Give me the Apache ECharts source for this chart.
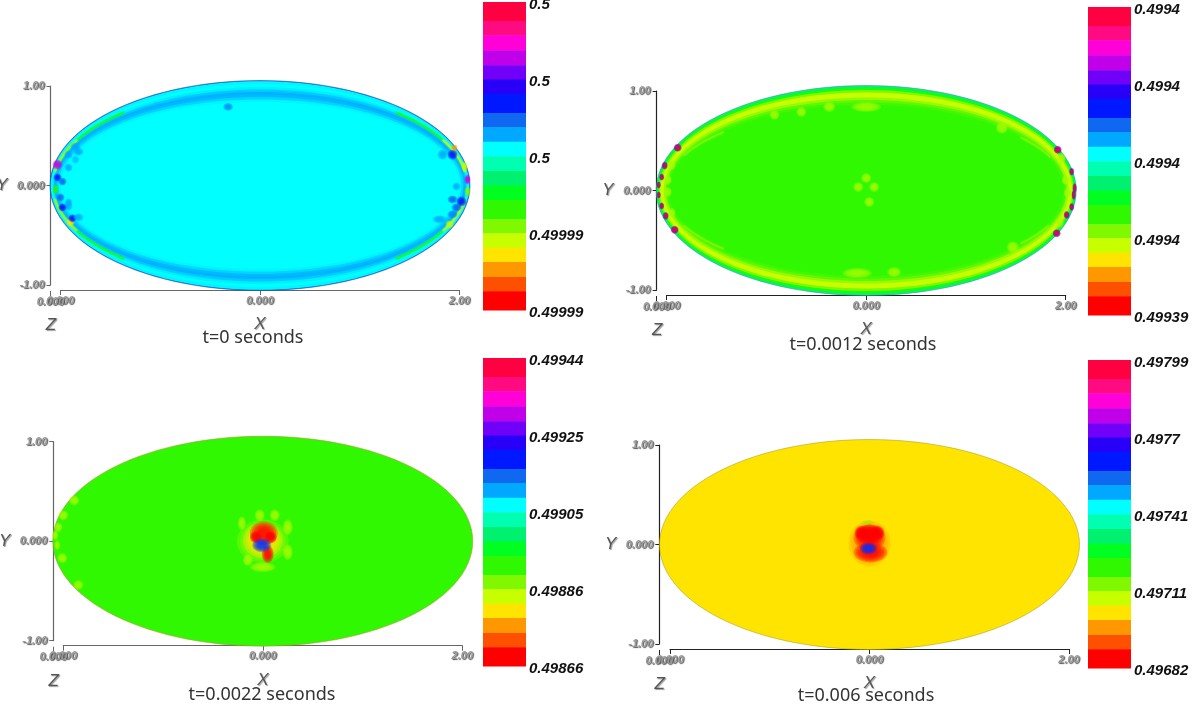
<!DOCTYPE html>
<html><head><meta charset="utf-8">
<style>html,body{margin:0;padding:0;background:#fff}#c{width:1200px;height:714px}</style>
<script src="https://cdn.jsdelivr.net/npm/echarts@6/dist/echarts.min.js"></script>
</head><body><div id="c"></div>
<script>
// ---------- values ----------
const captions = ["t=0 seconds", "t=0.0012 seconds", "t=0.0022 seconds", "t=0.006 seconds"];
const xTickLabels = ["0.000", "0.000", "2.00"];
const yTickLabels = ["-1.00", "0.000", "1.00"];
const zTickLabels = ["0.000", ""];
// colour bar labels, bottom to top
const legendLabels0 = ["0.49999", "0.49999", "0.5", "0.5", "0.5"];
const legendLabels1 = ["0.49939", "0.4994", "0.4994", "0.4994", "0.4994"];
const legendLabels2 = ["0.49866", "0.49886", "0.49905", "0.49925", "0.49944"];
const legendLabels3 = ["0.49682", "0.49711", "0.49741", "0.4977", "0.49799"];
// colour bar band borders as a fraction of its height, top to bottom
const bandEdges = [1, .938, .892, .843, .795, .748, .702, .640, .594, .546, .499, .451, .404, .357, .295, .249, .202, .156, .107, .061, 0];
const bandColors = ["#ff0040", "#ff0a80", "#ff00d8", "#c000e8", "#7000f8", "#2800f8", "#0018ff", "#1068f0", "#00a8ff", "#00ffff",
  "#00ffb0", "#00f070", "#00ff20", "#30f800", "#80f800", "#c8ff00", "#ffe400", "#ff9800", "#ff5000", "#ff0000"];
// contour rings: [x semi-axis, y semi-axis, colour band], outermost first
const rings0 = [[2.105,1.055,7.6],[2.098,1.048,8.9],[2.09,1.02,9],[2.08,.99,8.8],[2.07,.965,8.4],[2.06,.94,8.1],[2.05,.915,8.2],[2.04,.89,8.5],[2.02,.865,8.9],[2,.84,9]];
const rings1 = [[2.105,1.055,10.5],[2.1,1.045,11.5],[2.09,1.03,12.5],[2.08,1.01,14],[2.065,.985,15],[2.05,.96,15],[2.03,.935,14.3],[2.01,.91,13.6],[2,.885,13.2],[1.98,.86,13]];
const rings2 = [[2.105,1.055,13]];
const rings3 = [[2.105,1.055,16]];
// thin arcs: [x semi-axis, y semi-axis, from degree, to degree, colour band]
const arcs0 = [[2.075,.975,131,152,12.5],[2.075,.975,152,172,14.5],[2.075,.975,188,208,14.5],[2.075,.975,208,229,12.5],
  [2.075,.975,49,28,12.5],[2.075,.975,28,8,15],[2.075,.975,-8,-28,15],[2.075,.975,-28,-49,12.5]];
const arcs1 = [[2.02,.83,135,155,14],[2.02,.83,205,225,14],[2.02,.83,24,40,14],[2.02,.83,-40,-25,14]];
const arcs2 = [];
const arcs3 = [];
// blobs: [x, y, x radius, y radius, colour band]
const spots0 = [[-.32,.79,.05,.04,7.6],[-1.85,.39,.05,.04,8],[-1.82,.34,.05,.04,8],[-1.92,.31,.04,.04,8],[-1.85,.26,.04,.04,8.3],[-1.92,.18,.04,.04,8],
  [-2.03,.21,.05,.05,3],[-2.03,.08,.04,.04,6],[-1.98,.04,.04,.04,7],[-2.05,-.04,.03,.05,13],[-2,-.12,.04,.04,7],[-1.92,-.17,.04,.04,8],[-1.92,-.21,.04,.04,8],
  [-1.98,-.22,.04,.04,6],[-1.9,-.37,.04,.04,16],[-1.88,-.33,.04,.04,6],[-1.82,-.32,.05,.04,8],
  [1.83,.31,.05,.05,8],[1.93,.31,.05,.05,6],[1.95,.38,.03,.03,17],[2.05,.19,.03,.05,15],[2.08,.06,.03,.05,3],[1.97,-.01,.04,.04,8],[2.08,-.06,.03,.05,14],
  [2.02,-.16,.05,.05,6],[1.93,-.14,.05,.04,7],[1.97,-.22,.05,.04,7],[1.93,-.29,.05,.04,7.5],[1.8,-.34,.07,.04,8],[1.9,-.39,.04,.04,15]];
const spots1 = [[-.92,.76,.05,.05,14.5],[-.65,.79,.05,.05,14.5],[-.37,.84,.06,.05,14.5],[0,.84,.15,.05,14.5],[0,.125,.05,.05,14.5],[-.08,.035,.05,.05,14.5],[.08,.035,.05,.05,14.5],[.03,-.115,.05,.05,14.5],
  [-.09,-.83,.15,.05,14.5],[.28,-.82,.07,.05,14.5],[1.36,.63,.06,.06,14.5],[1.47,-.57,.06,.06,14.5],
  [-1.95,.255,.04,.05,14.5],[-1.99,.105,.04,.05,14.5],[-1.99,-.015,.04,.05,14.5],[-1.95,-.225,.04,.05,14.5],[1.96,.325,.04,.05,14.5],[2,.105,.04,.05,14.5],[2.02,-.025,.04,.05,14.5],[1.94,-.325,.04,.05,14.5],
  [-1.89,.43,.04,.04,6],[-2.02,.25,.03,.04,6],[-2.05,.135,.025,.035,6],[-2.08,.055,.02,.035,6],[-2.08,-.045,.02,.035,6],[-2.05,-.155,.025,.035,6],[-2.01,-.255,.03,.04,6],[-1.92,-.395,.04,.04,6],
  [1.92,.41,.04,.04,6],[2.06,.19,.025,.04,6],[2.09,.025,.02,.05,6],[2.08,-.045,.02,.05,6],[2.06,-.165,.025,.04,6],[2.01,-.245,.03,.04,6],[1.91,-.43,.04,.04,6],
  [-1.89,.43,.035,.035,0],[-2.02,.25,.025,.03,0],[-2.05,.135,.02,.03,0],[-2.08,.055,.018,.03,0],[-2.08,-.045,.018,.03,0],[-2.05,-.155,.02,.03,0],[-2.01,-.255,.025,.03,0],[-1.92,-.395,.035,.035,0],
  [1.92,.41,.035,.035,0],[2.06,.19,.02,.03,0],[2.09,.025,.018,.04,0],[2.08,-.045,.018,.04,0],[2.06,-.165,.02,.03,0],[2.01,-.245,.025,.03,0],[1.91,-.43,.035,.035,0]];
const spots2 = [[-1.89,.41,.05,.05,14.5],[-2,.26,.05,.05,14.5],[-2.05,.14,.04,.05,14.5],[-2.08,.06,.03,.05,14.5],[-2.06,-.04,.03,.05,14.5],[-2.01,-.17,.05,.05,14.5],[-1.85,-.44,.05,.05,14.5],
  [-.21,.18,.04,.07,14.5],[-.03,.26,.05,.06,14.5],[.12,.26,.05,.06,14.5],[.25,.14,.05,.08,14.5],[.25,-.11,.05,.08,14.5],[-.15,-.19,.05,.06,14.5],[0,-.26,.13,.05,14.5],
  [0,0,.26,.22,14.5],[0,.01,.2,.18,16],[.01,.08,.14,.12,19],[-.07,.04,.06,.06,19],[.08,.04,.06,.06,19],[.05,-.13,.06,.09,19],[-.01,-.04,.095,.07,6.3]];
const spots3 = [[-.02,.21,.07,.04,14.5],[0,.01,.21,.23,17],[0,.07,.16,.13,19],[-.08,.12,.07,.07,19],[.08,.12,.07,.07,19],[0,.1,.14,.1,19],[.01,-.08,.17,.1,19],[-.01,-.04,.085,.06,6.3]];

// ---------- layout and styles ----------
const panels = [
  {rings: rings0, arcs: arcs0, spots: spots0, legend: legendLabels0, rim: "#2840a0", axis: "#666", left: 60.5, top: 86, yAxisAt: 50.5, bar: [483, 2], cap: [253, 338]},
  {rings: rings1, arcs: arcs1, spots: spots1, legend: legendLabels1, rim: "#4a8088", axis: "#222", left: 666.7, top: 91, yAxisAt: 656.7, bar: [1088, 7], cap: [863, 345]},
  {rings: rings2, arcs: arcs2, spots: spots2, legend: legendLabels2, rim: "#b09030", axis: "#666", left: 63.3, top: 441.7, yAxisAt: 53.3, bar: [483, 358], cap: [262, 695]},
  {rings: rings3, arcs: arcs3, spots: spots3, legend: legendLabels3, rim: "#a89a28", axis: "#222", left: 670, top: 445, yAxisAt: 659.3, bar: [1088, 360], cap: [866, 696]}
];
function rgb(h){return [1,3,5].map(i=>parseInt(h.substr(i,2),16));}
function bandColor(v){
  const i=Math.min(Math.floor(v),bandColors.length-1), j=Math.min(i+1,bandColors.length-1), f=v-i;
  const a=rgb(bandColors[i]), b=rgb(bandColors[j]);
  return 'rgb('+a.map((c,k)=>Math.round(c+(b[k]-c)*f)).join(',')+')';
}
function ellipsePoints(api,cx,cy,a,b,from,to,n){
  const pts=[];
  for(let k=0;k<=n;k++){const t=(from+(to-from)*k/n)*Math.PI/180;pts.push(api.coord([cx+a*Math.cos(t),cy+b*Math.sin(t)]));}
  return pts;
}
const tickFont={fontFamily:'"Liberation Sans"',fontStyle:'italic',fontWeight:'bold',fontSize:11,color:'#999',textShadowColor:'#555',textShadowOffsetX:1,textShadowOffsetY:1,textShadowBlur:1};
const nameFont={fontFamily:'"Liberation Sans"',fontStyle:'italic',fontSize:17,color:'#555',textShadowColor:'#999',textShadowOffsetX:1,textShadowOffsetY:1,textShadowBlur:1};
const option={animation:false,backgroundColor:'#fff',grid:[],xAxis:[],yAxis:[],series:[],graphic:[]};

panels.forEach((p,i)=>{
  const g=option.grid.length;
  option.grid.push({left:p.left,top:p.top,width:399,height:199,outerBoundsMode:'none'});
  option.xAxis.push({gridIndex:g,type:'value',min:-2,max:2,interval:2,offset:5,splitLine:{show:false},
    axisLine:{onZero:false,lineStyle:{color:p.axis,width:1.2}},axisTick:{length:5,inside:false,lineStyle:{color:p.axis}},
    axisLabel:{...tickFont,margin:5,formatter:(v,k)=>xTickLabels[k]},
    name:'X',nameLocation:'middle',nameGap:26,nameTextStyle:nameFont});
  option.yAxis.push({gridIndex:g,type:'value',min:-1,max:1,interval:1,offset:p.left-p.yAxisAt,splitLine:{show:false},
    axisLine:{onZero:false,lineStyle:{color:p.axis,width:1.2}},axisTick:{length:4,lineStyle:{color:p.axis}},
    axisLabel:{...tickFont,margin:6,formatter:(v,k)=>yTickLabels[k]},
    name:'Y',nameLocation:'middle',nameRotate:0,nameGap:43,nameTextStyle:nameFont});
  // concentric contour rings
  option.series.push({type:'custom',xAxisIndex:g,yAxisIndex:g,clip:false,silent:true,data:p.rings,
    renderItem:(ps,api)=>({type:'polygon',shape:{points:ellipsePoints(api,0,0,api.value(0),api.value(1),0,360,120)},style:{fill:bandColor(api.value(2))}})});
  // outer rim
  option.series.push({type:'custom',xAxisIndex:g,yAxisIndex:g,clip:false,silent:true,data:p.rings.slice(0,1),
    renderItem:(ps,api)=>({type:'polygon',shape:{points:ellipsePoints(api,0,0,api.value(0),api.value(1),0,360,120)},style:{fill:'none',stroke:p.rim,lineWidth:1,opacity:.55}})});
  // arcs
  option.series.push({type:'custom',xAxisIndex:g,yAxisIndex:g,clip:false,silent:true,data:p.arcs,
    renderItem:(ps,api)=>{const c=bandColor(api.value(4));return {type:'polyline',shape:{points:ellipsePoints(api,0,0,api.value(0),api.value(1),api.value(2),api.value(3),24)},style:{fill:'none',stroke:c,lineWidth:2,opacity:.7,shadowBlur:2,shadowColor:c}};}});
  // soft blobs
  option.series.push({type:'custom',xAxisIndex:g,yAxisIndex:g,clip:false,silent:true,data:p.spots,
    renderItem:(ps,api)=>{
      const c=bandColor(api.value(4)),ch=[];
      [1,.88,.76,.64,.52,.4].forEach(s=>ch.push({type:'polygon',shape:{points:ellipsePoints(api,api.value(0),api.value(1),api.value(2)*s,api.value(3)*s,0,360,24)},style:{fill:c,opacity:.3}}));
      return {type:'group',children:ch};
    }});
  // Z axis: one tick beside the Y axis
  const gz=option.grid.length;
  option.grid.push({left:p.yAxisAt,top:p.top+204,width:1,height:1,outerBoundsMode:'none'});
  option.xAxis.push({gridIndex:gz,type:'value',min:0,max:1,interval:1,splitLine:{show:false},
    axisLine:{show:false},axisTick:{length:5,lineStyle:{color:p.axis}},
    axisLabel:{...tickFont,margin:5,showMaxLabel:false,formatter:(v,k)=>zTickLabels[k]},
    name:'Z',nameLocation:'middle',nameGap:26,nameTextStyle:nameFont});
  option.yAxis.push({gridIndex:gz,type:'value',show:false,min:0,max:1});
  // colour bar
  const gb=option.grid.length;
  option.grid.push({left:p.bar[0],top:p.bar[1],width:43,height:308,outerBoundsMode:'none'});
  option.xAxis.push({gridIndex:gb,type:'value',show:false,min:0,max:1});
  option.yAxis.push({gridIndex:gb,type:'value',min:0,max:1,interval:.25,position:'right',splitLine:{show:false},axisLine:{show:false},axisTick:{show:false},
    axisLabel:{fontFamily:'"Liberation Sans"',fontStyle:'italic',fontWeight:'bold',fontSize:15,color:'#111',margin:3,verticalAlign:'top',lineHeight:6,formatter:(v,k)=>p.legend[k]}});
  option.series.push({type:'custom',xAxisIndex:gb,yAxisIndex:gb,clip:false,silent:true,data:bandColors.map((c,k)=>[bandEdges[k+1],bandEdges[k],k]),
    renderItem:(ps,api)=>{const a=api.coord([0,api.value(1)]),b=api.coord([1,api.value(0)]);
      return {type:'rect',shape:{x:a[0],y:a[1],width:b[0]-a[0],height:b[1]-a[1]+.5},style:{fill:bandColors[api.value(2)]}};}});
  // caption
  option.graphic.push({type:'text',x:p.cap[0],y:p.cap[1],style:{text:captions[i],fill:'#333',font:'18px "Noto Sans"',textAlign:'center',textVerticalAlign:'middle'}});
});
echarts.init(document.getElementById('c'),null,{renderer:'canvas'}).setOption(option);
</script></body></html>
